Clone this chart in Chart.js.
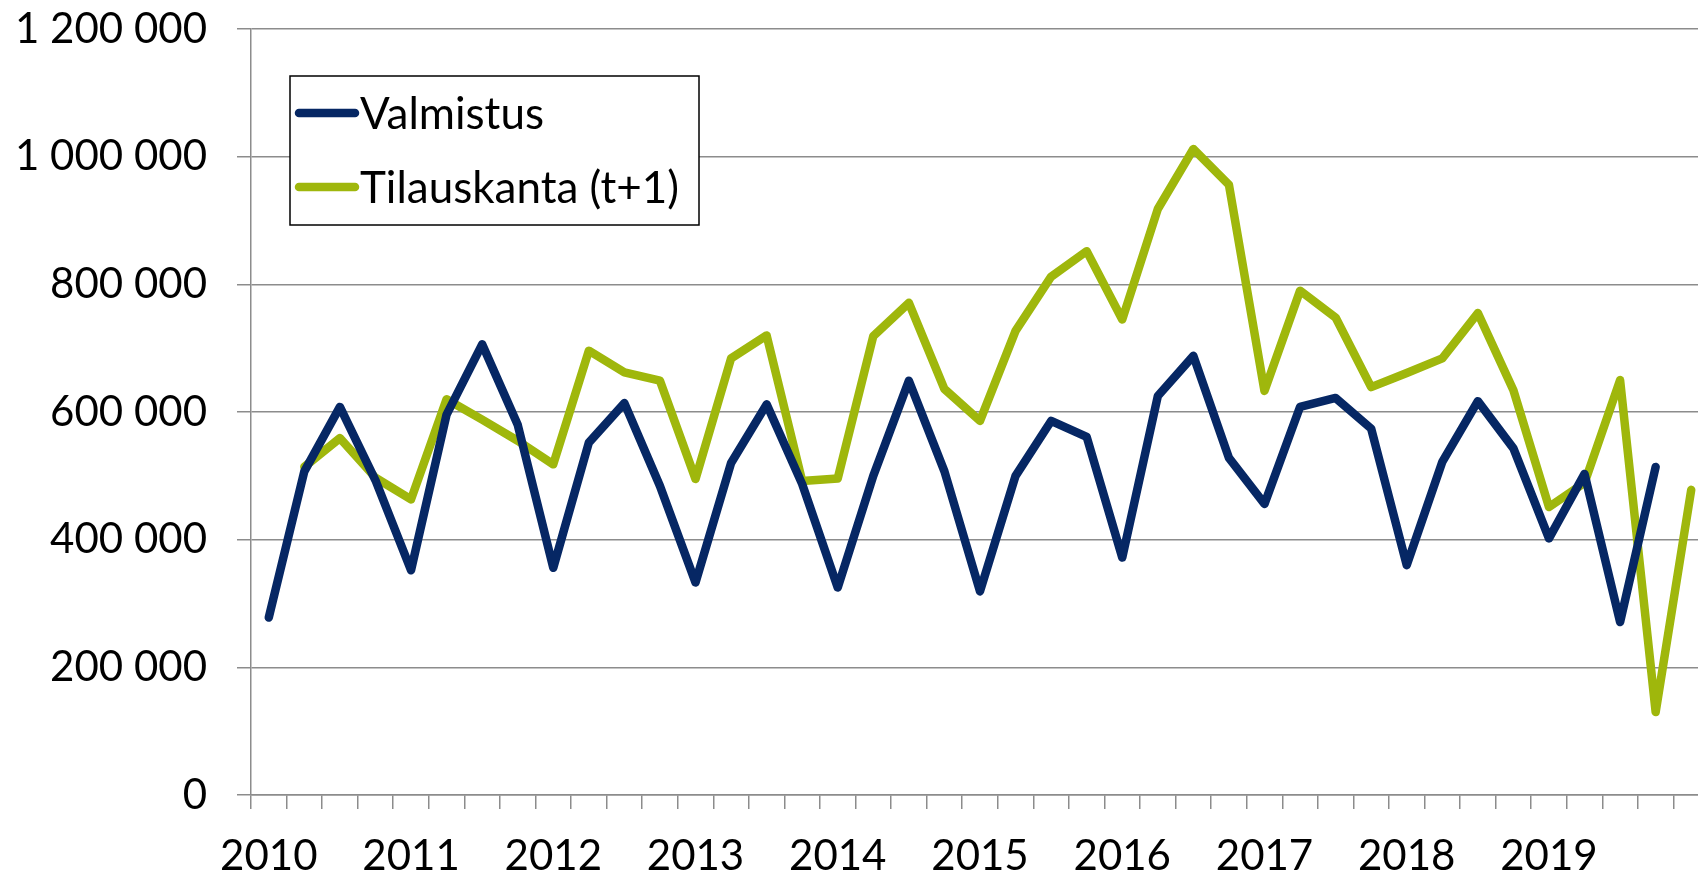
<!DOCTYPE html>
<html>
<head>
<meta charset="utf-8">
<script src="https://cdn.jsdelivr.net/npm/chart.js@4"></script>
<style>
  html, body { margin: 0; padding: 0; background: #fff; overflow: hidden; }
  #wrap { width: 1712px; height: 875px; position: relative; }
</style>
</head>
<body>
<div id="wrap"><canvas id="chart"></canvas></div>
<script>
// Neljännekset 2010Q1 ... 2020Q1
const vuodet = ['2010', '2011', '2012', '2013', '2014', '2015', '2016', '2017', '2018', '2019', '2020'];
const neljannekset = [];
vuodet.forEach(v => ['Q1', 'Q2', 'Q3', 'Q4'].forEach(q => neljannekset.push(v + q)));
neljannekset.length = 41;

const valmistus = [
    278000, 507000, 608000, 493000, 352000, 596000, 706000, 580000,
    356000, 552000, 614000, 484000, 333000, 520000, 612000, 487000,
    325000, 500000, 649000, 507000, 319000, 500000, 586000, 561000,
    372000, 625000, 688000, 528000, 456000, 608000, 622000, 574000,
    360000, 522000, 617000, 543000, 402000, 503000, 271000, 514000,
    null
];

const tilauskanta = [
    null, 514000, 559000, 497000, 463000, 620000, 588000, 555000,
    518000, 696000, 662000, 649000, 495000, 684000, 720000, 492000,
    496000, 719000, 771000, 636000, 586000, 727000, 812000, 852000,
    745000, 918000, 1012000, 956000, 633000, 790000, 748000, 639000,
    661000, 684000, 755000, 634000, 451000, 489000, 650000, 130000,
    478000
];

const yTicks = [0, 200000, 400000, 600000, 800000, 1000000, 1200000];

const fontFamily = 'Lato, "Open Sans", sans-serif';
const fontSize = 42;
const gridColor = '#8c8c8c';

// Selite laatikossa kuvaajan sisällä
const legendBox = {
    id: 'legendBox',
    afterDraw(chart) {
        const ctx = chart.ctx;
        const x0 = 290, y0 = 76, w = 409, h = 149;
        ctx.save();
        ctx.fillStyle = '#fff';
        ctx.fillRect(x0, y0, w, h);
        ctx.strokeStyle = '#000';
        ctx.lineWidth = 1.5;
        ctx.strokeRect(x0, y0, w, h);
        ctx.font = '44px ' + fontFamily;
        ctx.textBaseline = 'middle';
        chart.data.datasets.forEach((ds, i) => {
            const y = 113 + i * 74;
            ctx.strokeStyle = ds.borderColor;
            ctx.lineWidth = 8.5;
            ctx.lineCap = 'round';
            ctx.beginPath();
            ctx.moveTo(299, y);
            ctx.lineTo(355, y);
            ctx.stroke();
            ctx.fillStyle = '#000';
            ctx.fillText(ds.label, 360, y + 2);
        });
        ctx.restore();
    }
};

const ctx = document.getElementById('chart').getContext('2d');
new Chart(ctx, {
    type: 'line',
    data: {
        labels: neljannekset,
        datasets: [
            {
                label: 'Valmistus',
                data: valmistus,
                borderColor: '#062764',
                borderWidth: 8.5,
                borderCapStyle: 'round',
                borderJoinStyle: 'round',
                pointRadius: 0,
                tension: 0
            },
            {
                label: 'Tilauskanta (t+1)',
                data: tilauskanta,
                borderColor: '#9fb70c',
                borderWidth: 8.5,
                borderCapStyle: 'round',
                borderJoinStyle: 'round',
                pointRadius: 0,
                tension: 0
            }
        ]
    },
    options: {
        responsive: true,
        maintainAspectRatio: false,
        animation: false,
        layout: { padding: { top: 29, right: 3, bottom: 0, left: 0 } },
        plugins: {
            legend: { display: false },
            tooltip: { enabled: false }
        },
        scales: {
            x: {
                offset: true,
                afterFit: s => { s.height = 80; s.paddingLeft = 0; s.paddingRight = 0; },
                grid: {
                    offset: true,
                    drawOnChartArea: false,
                    drawTicks: true,
                    tickLength: 14,
                    color: gridColor,
                    lineWidth: 1.5
                },
                border: { color: gridColor, width: 1.5 },
                ticks: {
                    autoSkip: false,
                    maxRotation: 0,
                    padding: 22,
                    color: '#000',
                    font: { family: fontFamily, size: fontSize },
                    callback: function(val, i) {
                        const lab = this.getLabelForValue(val);
                        return (i % 4 === 0 && i < 40) ? lab.slice(0, 4) : '';
                    }
                }
            },
            y: {
                min: 0,
                max: 1200000,
                afterFit: s => { s.width = 251; s.paddingTop = 0; s.paddingBottom = 0; },
                afterBuildTicks: s => { s.ticks = yTicks.map(v => ({ value: v })); },
                grid: {
                    color: gridColor,
                    lineWidth: 1.5,
                    tickLength: 14
                },
                border: { color: gridColor, width: 1.5 },
                ticks: {
                    padding: 30,
                    color: '#000',
                    font: { family: fontFamily, size: fontSize },
                    callback: v => String(v).replace(/\B(?=(\d{3})+(?!\d))/g, ' ')
                }
            }
        }
    },
    plugins: [legendBox]
});
</script>
</body>
</html>
